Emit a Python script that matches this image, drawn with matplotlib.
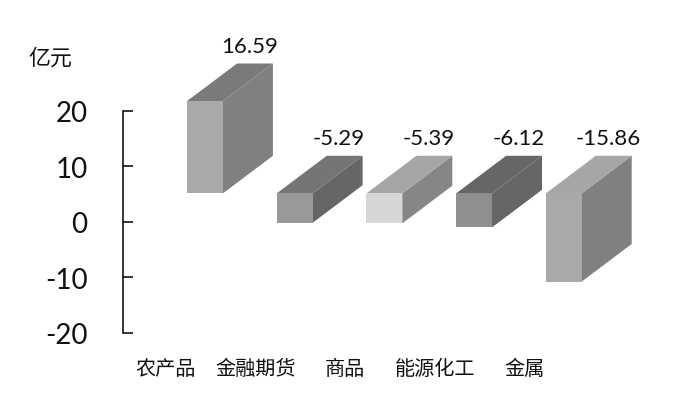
import matplotlib
matplotlib.use("Agg")
import matplotlib.pyplot as plt
from matplotlib.patches import Polygon
from matplotlib.transforms import ScaledTranslation

categories = ["农产品", "金融期货", "商品", "能源化工", "金属"]
values = [16.59, -5.29, -5.39, -6.12, -15.86]
base_level = 5.1
yticks = [-20, -10, 0, 10, 20]
front_colors = ["#a9a9a9", "#999999", "#d6d6d6", "#8f8f8f", "#a9a9a9"]
side_colors = ["#808080", "#666666", "#868686", "#666666", "#808080"]
top_colors = ["#7a7a7a", "#757575", "#a6a6a6", "#666666", "#a6a6a6"]

W, H = 673, 401
fig = plt.figure(figsize=(W / 100, H / 100), dpi=100, facecolor="white")
L, R, T, B = 123, 647, 110.5, 333
ax = fig.add_axes([L / W, 1 - B / H, (R - L) / W, (B - T) / H])
ax.set_ylim(-20, 20)
ax.set_xlim(-0.914, 4.928)

depth_x = 50 / 89.7
depth_y = 37.6 / 55.6 * 10
bar_w = 0.4

for i, v in enumerate(values):
    lo, hi = sorted((base_level, base_level + v))
    xl, xr = i - bar_w / 2, i + bar_w / 2
    ax.bar(i, hi - lo, bottom=lo, width=bar_w, color=front_colors[i], linewidth=0, zorder=3, clip_on=False)
    ax.add_patch(Polygon([(xr, lo), (xr + depth_x, lo + depth_y), (xr + depth_x, hi + depth_y), (xr, hi)],
                         closed=True, facecolor=side_colors[i], edgecolor="none", zorder=2, clip_on=False))
    ax.add_patch(Polygon([(xl, hi), (xl + depth_x, hi + depth_y), (xr + depth_x, hi + depth_y), (xr, hi)],
                         closed=True, facecolor=top_colors[i], edgecolor="none", zorder=2, clip_on=False))
    ax.annotate(f"{v:.2f}", (i + depth_x / 2, hi + depth_y),
                xytext=(14, 12), textcoords="offset points", ha="center", va="center",
                fontsize=16, family="Lato", color="#111111", annotation_clip=False)

for s in ("top", "right", "bottom"):
    ax.spines[s].set_visible(False)
ax.spines["left"].set_linewidth(1.1)
ax.spines["left"].set_color("black")
ax.set_yticks(yticks)
ax.set_yticklabels([str(t) for t in yticks], family="Lato", fontsize=20, color="#111111")
ax.tick_params(axis="y", direction="in", length=7.2, width=1.1, pad=25.5)
for lab in ax.get_yticklabels():
    lab.set_transform(lab.get_transform() + ScaledTranslation(0, -1 / 100, fig.dpi_scale_trans))
ax.set_xticks([i - 39 / 89.7 for i in range(len(categories))])
ax.set_xticklabels(categories, family="Noto Sans CJK SC", fontsize=14.5, color="#111111")
ax.tick_params(axis="x", length=0, pad=19)

fig.text(50 / W, 1 - 59 / H, "亿元", family="Noto Sans CJK SC", fontsize=15.8,
         ha="center", va="center", color="#111111")

fig.savefig("out.png", dpi=100)
